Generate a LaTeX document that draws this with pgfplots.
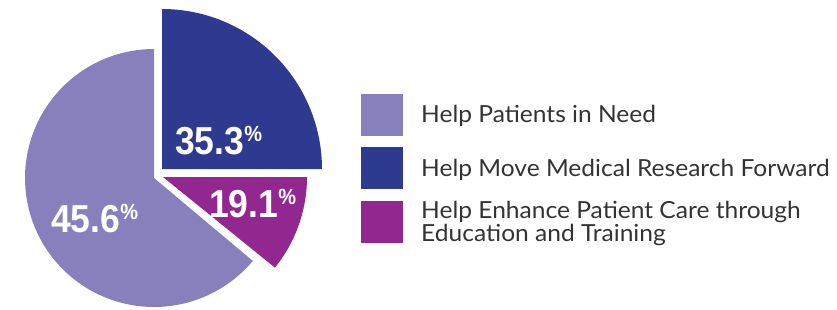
\documentclass[border=0pt]{standalone}
\usepackage{pgfplots}
\pgfplotsset{compat=1.18}
\usepackage{fontspec}
\setmainfont{Lato}
\newfontfamily\legfont[FakeStretch=1.045]{Lato}
\newfontfamily\numfont[FakeStretch=0.91]{Liberation Sans}
\definecolor{lp}{HTML}{8780BC}
\definecolor{db}{HTML}{2E3990}
\definecolor{mg}{HTML}{92278F}
\definecolor{txt}{HTML}{333333}
% slice geometry (as drawn): centre x, centre y, radius, start angle, end angle
% Help Patients in Need 45.6 ; Research 35.3 ; Education 19.1
\newcommand{\pct}[1]{{\numfont\bfseries\fontsize{39}{39}\selectfont #1\raisebox{12.5pt}{\fontsize{22}{22}\selectfont\%}}}
\begin{document}
\begin{tikzpicture}
\begin{axis}[
  at={(0,0)}, anchor=south west,
  width=837pt, height=309pt, scale only axis,
  xmin=0, xmax=837, ymin=0, ymax=309,
  hide axis, clip=false,
]
% Help Patients in Need (45.6%)
\addplot[fill=lp, draw=none, domain=90:320, samples=120, variable=\t]
  ({154+129*cos(\t)}, {131+129*sin(\t)}) -- (axis cs:154,131) -- cycle;
% Help Move Medical Research Forward (35.3%)
\addplot[fill=db, draw=none, domain=0:90, samples=60, variable=\t]
  ({162+160*cos(\t)}, {140+160*sin(\t)}) -- (axis cs:162,140) -- cycle;
% Help Enhance Patient Care (19.1%)
\addplot[fill=mg, draw=none, domain=-39:0, samples=40, variable=\t]
  ({163+144*cos(\t)}, {132+144*sin(\t)}) -- (axis cs:163,132) -- cycle;

\node[white, anchor=base west, inner sep=0pt] at (axis cs:51,77) {\pct{45.6}};
\node[white, anchor=base west, inner sep=0pt] at (axis cs:175,155) {\pct{35.3}};
\node[white, anchor=base west, inner sep=0pt] at (axis cs:209,92) {\pct{19.1}};

% legend
\fill[lp] (axis cs:361,173) rectangle (axis cs:403,215);
\fill[db] (axis cs:361,120) rectangle (axis cs:403,162);
\fill[mg] (axis cs:361,66) rectangle (axis cs:403,108);
\begin{scope}[every node/.style={anchor=base west, inner sep=0pt, text=txt, font=\legfont\fontsize{23.5}{23.5}\selectfont}]
\node at (axis cs:421,187) {Help Patients in Need};
\node at (axis cs:421,133) {Help Move Medical Research Forward};
\node at (axis cs:421,91) {Help Enhance Patient Care through};
\node at (axis cs:421,68) {Education and Training};
\end{scope}
\end{axis}
\pgfresetboundingbox
\path[use as bounding box] (0,0) rectangle (837pt,309pt);
\end{tikzpicture}
\end{document}
